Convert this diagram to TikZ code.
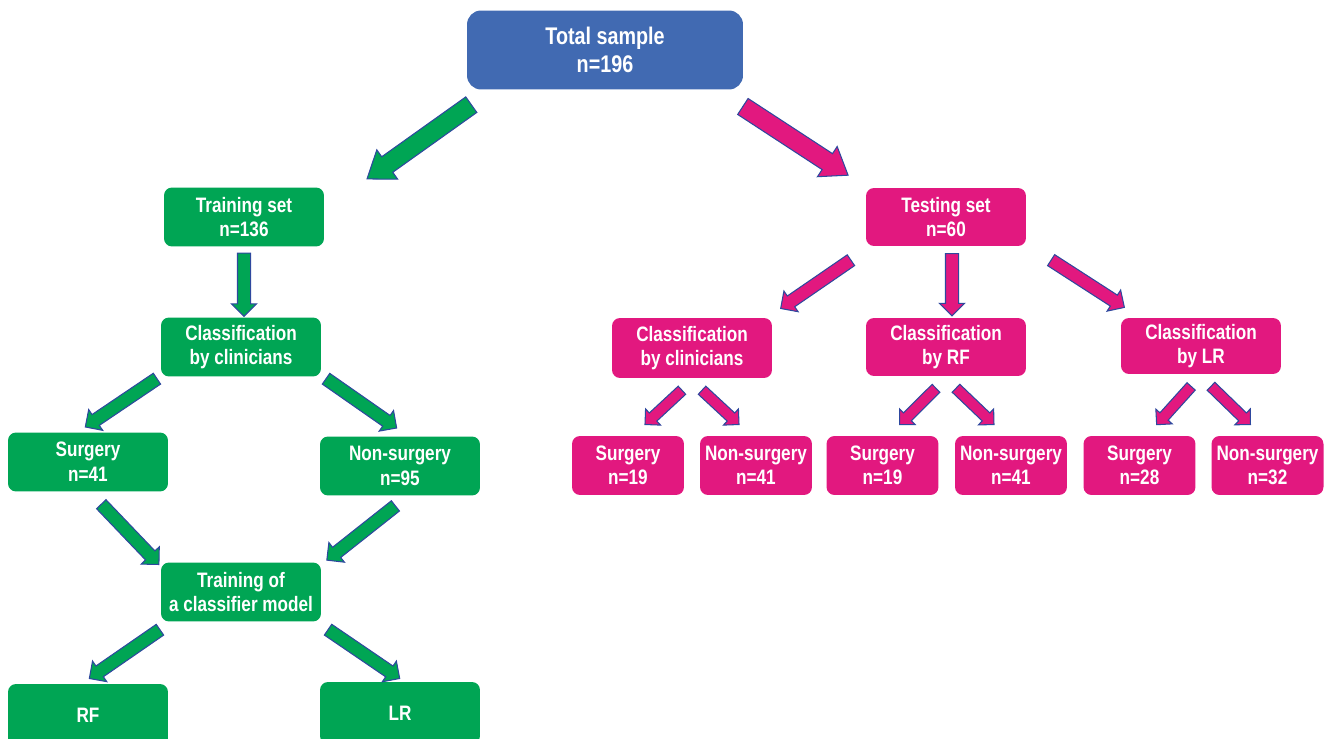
\documentclass[tikz,border=0pt]{standalone}
\usepackage{fontspec}
\setmainfont{Liberation Sans}[FakeStretch=0.82]
\usetikzlibrary{shapes.arrows,calc}

\definecolor{boxgreen}{RGB}{0,165,84}
\definecolor{boxpink}{RGB}{226,24,127}
\definecolor{boxblue}{RGB}{65,106,178}
\definecolor{arrowline}{RGB}{46,72,158}

\newcommand{\blockarrow}[3][]{%
  \path let \p1=($(#3)-(#2)$), \n1={atan2(\y1,\x1)}, \n2={veclen(\x1,\y1)} in
    node[barrow,#1,rotate=\n1,minimum height=\n2] at ($(#2)!0.5!(#3)$) {};}

\begin{document}
\begin{tikzpicture}[x=0.02cm, y=-0.02cm,
  box/.style={rounded corners=0.16cm, text=white, align=center, inner sep=0pt,
    font=\bfseries\fontsize{11.9}{14}\selectfont},
  gbox/.style={box, fill=boxgreen, minimum width=3.2cm, minimum height=1.18cm},
  pbox/.style={box, fill=boxpink, minimum width=3.2cm, minimum height=1.18cm},
  psmall/.style={pbox, minimum width=2.24cm},
  barrow/.style={single arrow, draw=arrowline, line width=0.6pt, minimum width=0pt,
    single arrow head indent=0pt, single arrow tip angle=90,
    single arrow head extend=0.12cm, inner sep=0.12cm},
  bigarrow/.style={inner sep=0.18cm, single arrow head extend=0.17cm, single arrow tip angle=72},
  smallarrow/.style={inner sep=0.1cm, single arrow head extend=0.11cm}]
\useasboundingbox (0,0) rectangle (1333,739);
\clip (0,0) rectangle (1333,739);

\node[box, fill=boxblue, minimum width=5.52cm, minimum height=1.58cm, rounded corners=0.28cm,
  font=\bfseries\fontsize{13.7}{15.6}\selectfont] (total) at (605,50) {Total sample\\n=196};

\node[gbox] (train) at (244,217) {Training set\\n=136};
\node[gbox] (gclin) at (241,347) {Classification\\by clinicians};
\node[gbox] (gsurg) at (88,462) {Surgery\\n=41};
\node[gbox] (gnon) at (400,466) {Non-surgery\\n=95};
\node[gbox] (gtrain) at (241,592) {Training of\\a classifier model};
\node[gbox, minimum height=1.24cm] (rf) at (88,715) {RF};
\node[gbox, minimum height=1.24cm] (lr) at (400,713) {LR};

\node[pbox, minimum height=1.16cm] (test) at (946,217) {Testing set\\n=60};
\node[pbox, minimum height=1.2cm] (pclin) at (692,348) {Classification\\by clinicians};
\node[pbox, minimum height=1.16cm] (prf) at (946,347) {Classification\\by RF};
\node[pbox, minimum height=1.12cm] (plr) at (1201,346) {Classification\\by LR};

\node[psmall] (s1) at (628,465.5) {Surgery\\n=19};
\node[psmall] (n1) at (756,465.5) {Non-surgery\\n=41};
\node[psmall] (s2) at (882.5,465.5) {Surgery\\n=19};
\node[psmall] (n2) at (1011,465.5) {Non-surgery\\n=41};
\node[psmall] (s3) at (1139.5,465.5) {Surgery\\n=28};
\node[psmall] (n3) at (1267.5,465.5) {Non-surgery\\n=32};

\coordinate (a1) at ($(total.south west)+(10,11)$);
\coordinate (b1) at ($(train.north east)+(48,-12)$);
\coordinate (a2) at ($(total.south east)+(-6,13)$);
\coordinate (b2) at ($(test.north west)+(-23,-16)$);
\coordinate (a3) at ($(train.south)+(0,3)$);
\coordinate (b3) at ($(gclin.north)+(3,-4)$);
\coordinate (a4) at ($(gclin.south west)+(-1,0)$);
\coordinate (b4) at ($(gsurg.north)+(0,-7)$);
\coordinate (a5) at ($(gclin.south east)+(2,0)$);
\coordinate (b5) at ($(gnon.north)+(-6,-10)$);
\coordinate (a6) at ($(gsurg.south)+(11,10)$);
\coordinate (b6) at ($(gtrain.north west)+(-4,0)$);
\coordinate (a7) at ($(gnon.south)+(-2,8)$);
\coordinate (b7) at ($(gtrain.north east)+(8,-4)$);
\coordinate (a8) at ($(gtrain.south west)+(2,6)$);
\coordinate (b8) at ($(rf.north)+(4,-7)$);
\coordinate (a9) at ($(gtrain.south east)+(4,6)$);
\coordinate (b9) at ($(lr.north)+(-3,-5)$);
\coordinate (c1) at ($(test.south west)+(-12,12)$);
\coordinate (d1) at ($(pclin.north east)+(11,-11)$);
\coordinate (c2) at ($(test.south)+(6,4)$);
\coordinate (d2) at ($(prf.north)+(6,-5)$);
\coordinate (c3) at ($(test.south east)+(22,12)$);
\coordinate (d3) at ($(plr.north west)+(1,-12)$);

\blockarrow[bigarrow, fill=boxgreen]{a1}{b1}
\blockarrow[bigarrow, fill=boxpink]{a2}{b2}
\foreach \i in {3,...,9}
  \blockarrow[fill=boxgreen]{a\i}{b\i};
\foreach \i in {1,2,3}
  \blockarrow[fill=boxpink]{c\i}{d\i};

\foreach \p/\s/\n in {pclin/s1/n1, prf/s2/n2, plr/s3/n3} {
  \coordinate (l) at ($(\p.south)+(-8,10)$);
  \coordinate (r) at ($(\p.south)+(8,10)$);
  \coordinate (lt) at ($(\s.north)+(19,-13)$);
  \coordinate (rt) at ($(\n.north)+(-19,-13)$);
  \blockarrow[smallarrow, fill=boxpink]{l}{lt}
  \blockarrow[smallarrow, fill=boxpink]{r}{rt}
}
\end{tikzpicture}
\end{document}
